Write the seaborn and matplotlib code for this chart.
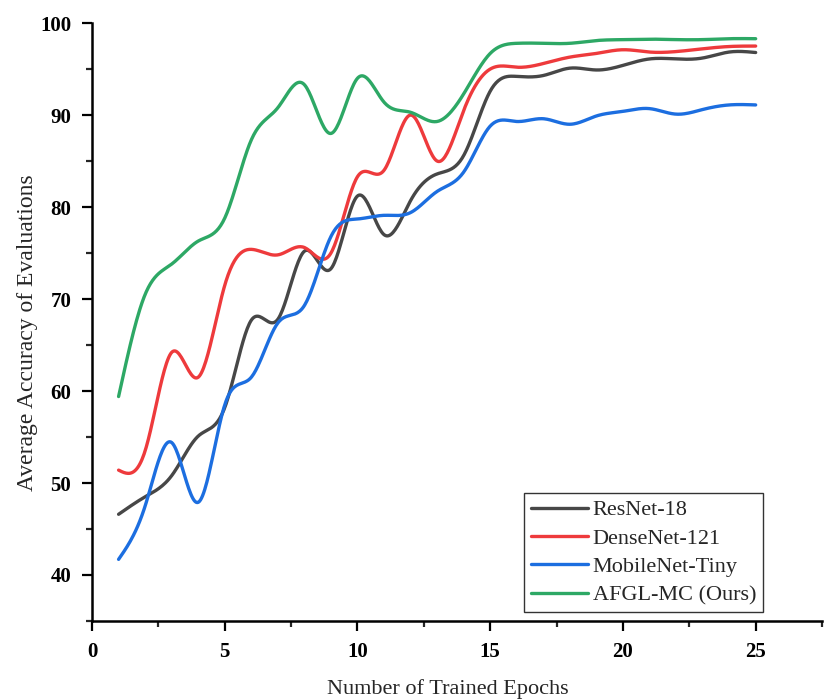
import numpy as np
import pandas as pd
import matplotlib
matplotlib.use("Agg")
import matplotlib.pyplot as plt
import seaborn as sns
from matplotlib.ticker import MultipleLocator

epochs = list(range(1, 26))
resnet18 = [46.6, 48.5, 50.8, 55.1, 58.2, 67.7, 67.8, 75.2, 73.3, 81.2, 77.0, 80.7, 83.6, 85.6, 92.6,
            94.2, 94.3, 95.1, 94.9, 95.4, 96.1, 96.1, 96.2, 96.85, 96.8]
densenet121 = [51.4, 53.5, 64.2, 61.5, 71.5, 75.4, 74.8, 75.6, 75.0, 83.3, 84.0, 90.0, 85.0, 90.5, 95.0,
               95.2, 95.6, 96.3, 96.7, 97.1, 96.85, 96.9, 97.2, 97.45, 97.5]
mobilenet_tiny = [41.7, 47.5, 54.4, 47.9, 58.5, 61.5, 67.4, 69.3, 76.8, 78.7, 79.1, 79.4, 81.7, 83.8, 88.8,
                  89.3, 89.6, 89.0, 89.9, 90.4, 90.7, 90.1, 90.6, 91.1, 91.1]
afgl_mc = [59.4, 70.5, 73.8, 76.3, 78.8, 87.3, 90.8, 93.3, 88.0, 94.0, 91.4, 90.3, 89.3, 92.3, 96.7,
           97.8, 97.8, 97.8, 98.1, 98.2, 98.25, 98.2, 98.2, 98.3, 98.3]

labels = ["ResNet-18", "DenseNet-121", "MobileNet-Tiny", "AFGL-MC (Ours)"]
series = [resnet18, densenet121, mobilenet_tiny, afgl_mc]
colors = ["#474747", "#ee3a3c", "#1c6ee0", "#2da865"]


def natural_spline(x, y, xs):
    x = np.asarray(x, float); y = np.asarray(y, float)
    n = len(x)
    h = np.diff(x)
    A = np.zeros((n, n)); b = np.zeros(n)
    A[0, 0] = 1; A[-1, -1] = 1
    for i in range(1, n - 1):
        A[i, i - 1] = h[i - 1]; A[i, i] = 2 * (h[i - 1] + h[i]); A[i, i + 1] = h[i]
        b[i] = 3 * ((y[i + 1] - y[i]) / h[i] - (y[i] - y[i - 1]) / h[i - 1])
    c = np.linalg.solve(A, b)
    bb = np.zeros(n - 1); d = np.zeros(n - 1)
    for i in range(n - 1):
        bb[i] = (y[i + 1] - y[i]) / h[i] - h[i] * (2 * c[i] + c[i + 1]) / 3
        d[i] = (c[i + 1] - c[i]) / (3 * h[i])
    idx = np.clip(np.searchsorted(x, xs) - 1, 0, n - 2)
    dx = xs - x[idx]
    return y[idx] + bb[idx] * dx + c[idx] * dx ** 2 + d[idx] * dx ** 3


xs = np.linspace(1, 25, 600)
frames = []
for lab, vals in zip(labels, series):
    frames.append(pd.DataFrame({"Epoch": xs, "Accuracy": natural_spline(epochs, vals, xs), "Model": lab}))
df = pd.concat(frames, ignore_index=True)

sns.set_style("ticks")
plt.rcParams["font.family"] = ["Liberation Serif", "DejaVu Serif"]

fig = plt.figure(figsize=(8.24, 6.99), dpi=100)
ax = fig.add_axes([0.1117, 0.1116, 0.8859, 0.8554])

sns.lineplot(data=df, x="Epoch", y="Accuracy", hue="Model", hue_order=labels,
             palette=dict(zip(labels, colors)), sort=False, estimator=None,
             linewidth=2.4, ax=ax)

ax.set_xlim(0, 27.5)
ax.set_ylim(35, 100)
ax.xaxis.set_major_locator(MultipleLocator(5))
ax.xaxis.set_minor_locator(MultipleLocator(2.5))
ax.yaxis.set_major_locator(MultipleLocator(10))
ax.yaxis.set_minor_locator(MultipleLocator(5))
ax.set_yticks([40, 50, 60, 70, 80, 90, 100])
for sp in ["top", "right"]:
    ax.spines[sp].set_visible(False)
for sp in ["left", "bottom"]:
    ax.spines[sp].set_linewidth(1.8)
    ax.spines[sp].set_color("black")
ax.tick_params(axis="both", which="major", direction="out", length=7, width=1.6,
               labelsize=15, colors="black", pad=8)
ax.tick_params(axis="both", which="minor", direction="out", length=4, width=1.6)
for t in ax.get_xticklabels() + ax.get_yticklabels():
    t.set_fontweight("bold")

ax.set_xlabel("Number of Trained Epochs", fontsize=16)
ax.set_ylabel("Average Accuracy of Evaluations", fontsize=17)
ax.xaxis.set_label_coords(0.488, -0.097)
ax.yaxis.set_label_coords(-0.074, 0.482)

leg = ax.legend(loc="lower right", bbox_to_anchor=(0.919, 0.015), fontsize=16,
                frameon=True, fancybox=False, edgecolor="#333333", framealpha=1,
                handlelength=2.6, handletextpad=0.2, labelspacing=0.35, borderpad=0.3,
                borderaxespad=0)
leg.get_frame().set_linewidth(1.0)
for line in leg.get_lines():
    line.set_linewidth(2.4)

fig.savefig("out.png", dpi=100)
